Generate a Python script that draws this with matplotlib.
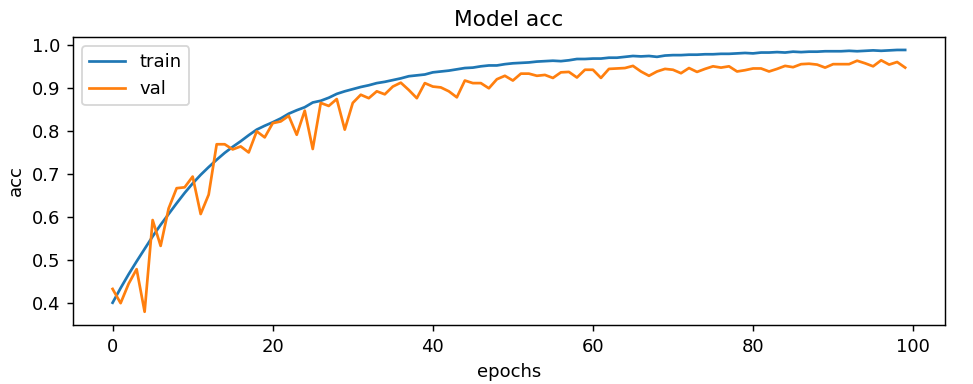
import numpy as np
import matplotlib
matplotlib.use('Agg')
import matplotlib.pyplot as plt

# accuracy per epoch
train_acc = [
    0.401, 0.435, 0.467, 0.497, 0.526, 0.555, 0.582, 0.607, 0.632, 0.656,
    0.678, 0.698, 0.716, 0.733, 0.749, 0.763, 0.776, 0.790, 0.803, 0.812,
    0.820, 0.829, 0.840, 0.848, 0.855, 0.866, 0.870, 0.877, 0.886, 0.892,
    0.897, 0.902, 0.906, 0.911, 0.914, 0.918, 0.922, 0.927, 0.929, 0.931,
    0.936, 0.938, 0.940, 0.943, 0.946, 0.947, 0.950, 0.952, 0.952, 0.955,
    0.957, 0.958, 0.959, 0.961, 0.962, 0.963, 0.962, 0.964, 0.967, 0.967,
    0.968, 0.968, 0.970, 0.970, 0.972, 0.974, 0.973, 0.974, 0.972, 0.975,
    0.976, 0.976, 0.977, 0.977, 0.978, 0.978, 0.979, 0.979, 0.980, 0.981,
    0.980, 0.982, 0.982, 0.983, 0.982, 0.984, 0.983, 0.984, 0.984, 0.985,
    0.985, 0.985, 0.986, 0.985, 0.986, 0.987, 0.986, 0.987, 0.988, 0.988,
]
val_acc = [
    0.433, 0.400, 0.445, 0.479, 0.380, 0.593, 0.533, 0.620, 0.667, 0.669,
    0.694, 0.607, 0.652, 0.769, 0.769, 0.757, 0.764, 0.750, 0.799, 0.785,
    0.818, 0.822, 0.835, 0.791, 0.847, 0.758, 0.865, 0.858, 0.874, 0.803,
    0.865, 0.884, 0.876, 0.892, 0.885, 0.903, 0.912, 0.895, 0.876, 0.911,
    0.903, 0.901, 0.892, 0.878, 0.917, 0.911, 0.911, 0.899, 0.920, 0.928,
    0.917, 0.933, 0.933, 0.928, 0.930, 0.923, 0.936, 0.937, 0.924, 0.942,
    0.942, 0.923, 0.944, 0.945, 0.946, 0.951, 0.938, 0.928, 0.938, 0.944,
    0.942, 0.934, 0.946, 0.937, 0.944, 0.950, 0.947, 0.950, 0.938, 0.941,
    0.945, 0.945, 0.938, 0.944, 0.951, 0.948, 0.955, 0.956, 0.954, 0.947,
    0.955, 0.955, 0.955, 0.963, 0.957, 0.950, 0.964, 0.954, 0.960, 0.947,
]

dpi = 130
fig, ax = plt.subplots(figsize=(973 / dpi, 384 / dpi), dpi=dpi)
fig.subplots_adjust(left=0.075, right=0.971, top=0.904, bottom=0.154)

ax.plot(train_acc, label='train')
ax.plot(val_acc, label='val')
ax.set_title('Model acc')
ax.set_xlabel('epochs')
ax.set_ylabel('acc')
ax.legend(loc='upper left')

fig.savefig('out.png', dpi=dpi)
